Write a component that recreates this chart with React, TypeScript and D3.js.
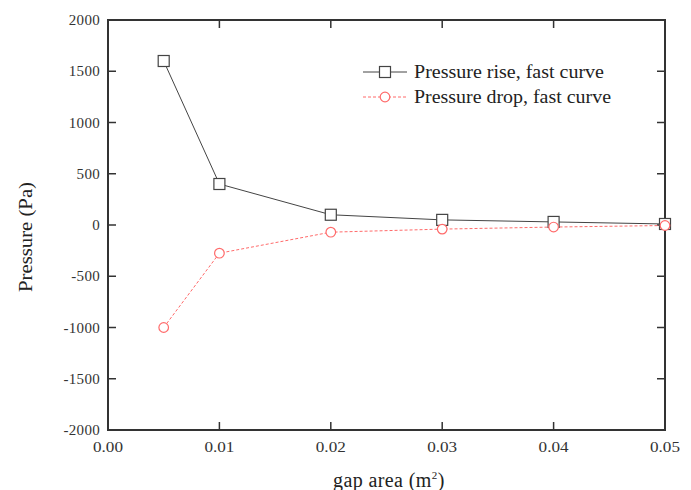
import React from "react";
import * as d3 from "d3";

const xValues = [0.005, 0.01, 0.02, 0.03, 0.04, 0.05];
const riseValues = [1600, 400, 100, 50, 30, 10];
const dropValues = [-1000, -275, -70, -40, -20, -5];
const xTicks = [0, 0.01, 0.02, 0.03, 0.04, 0.05];
const yTicks = [-2000, -1500, -1000, -500, 0, 500, 1000, 1500, 2000];
const seriesNames = ["Pressure rise, fast curve", "Pressure drop, fast curve"];

const W = 691, H = 490;
const M = { left: 108, right: 665, top: 20, bottom: 430 };
const FONT = "'Liberation Serif', 'Times New Roman', serif";

export default function App() {
  const x = d3.scaleLinear().domain([0, 0.05]).range([M.left, M.right]);
  const y = d3.scaleLinear().domain([-2000, 2000]).range([M.bottom, M.top]);
  const line = d3.line<number>().x((_, i) => x(xValues[i])).y((d) => y(d));
  const tickLen = 8;
  const axisColor = "#333";
  const riseColor = "#444";
  const dropColor = "#ff6b6b";
  const sq = 11;
  return (
    <svg width={W} height={H} style={{ position: "absolute", left: 0, top: 0 }}>
      <rect x={0} y={0} width={W} height={H} fill="#fff" />
      {/* ticks */}
      {xTicks.map((t) => (
        <g key={"x" + t}>
          <line x1={x(t)} x2={x(t)} y1={M.bottom} y2={M.bottom - tickLen} stroke={axisColor} strokeWidth={1.5} />
          <line x1={x(t)} x2={x(t)} y1={M.top} y2={M.top + tickLen} stroke={axisColor} strokeWidth={1.5} />
          <text x={x(t)} y={M.bottom + 22} textAnchor="middle" fontFamily={FONT} fontSize={15} fill="#333" textLength={30} lengthAdjust="spacingAndGlyphs">
            {t.toFixed(2)}
          </text>
        </g>
      ))}
      {yTicks.map((t) => (
        <g key={"y" + t}>
          <line x1={M.left} x2={M.left + tickLen} y1={y(t)} y2={y(t)} stroke={axisColor} strokeWidth={1.5} />
          <line x1={M.right} x2={M.right - tickLen} y1={y(t)} y2={y(t)} stroke={axisColor} strokeWidth={1.5} />
          <text x={M.left - 8} y={y(t) + 5} textAnchor="end" fontFamily={FONT} fontSize={15} fill="#333" letterSpacing={0.3}>
            {t}
          </text>
        </g>
      ))}
      <rect x={M.left} y={M.top} width={M.right - M.left} height={M.bottom - M.top} fill="none" stroke={axisColor} strokeWidth={2} />
      {/* series */}
      <path d={line(riseValues) || ""} fill="none" stroke={riseColor} strokeWidth={1} />
      <path d={line(dropValues) || ""} fill="none" stroke={dropColor} strokeWidth={1} strokeDasharray="3,2" />
      {riseValues.map((v, i) => (
        <rect key={"r" + i} x={x(xValues[i]) - sq / 2} y={y(v) - sq / 2} width={sq} height={sq} fill="#fff" stroke={riseColor} strokeWidth={1.2} />
      ))}
      {dropValues.map((v, i) => (
        <circle key={"d" + i} cx={x(xValues[i])} cy={y(v)} r={4.8} fill="#fff" stroke={dropColor} strokeWidth={1.2} />
      ))}
      {/* legend */}
      <g>
        <line x1={363} x2={407} y1={72} y2={72} stroke={riseColor} strokeWidth={1} />
        <rect x={385 - sq / 2} y={72 - sq / 2} width={sq} height={sq} fill="#fff" stroke={riseColor} strokeWidth={1.2} />
        <text x={414} y={78} fontFamily={FONT} fontSize={18} fill="#222" textLength={190} lengthAdjust="spacingAndGlyphs">{seriesNames[0]}</text>
        <line x1={363} x2={407} y1={97} y2={97} stroke={dropColor} strokeWidth={1} strokeDasharray="3,2" />
        <circle cx={385} cy={97} r={4.8} fill="#fff" stroke={dropColor} strokeWidth={1.2} />
        <text x={414} y={103} fontFamily={FONT} fontSize={18} fill="#222" textLength={197} lengthAdjust="spacingAndGlyphs">{seriesNames[1]}</text>
      </g>
      {/* axis labels */}
      <text x={333} y={487} fontFamily={FONT} fontSize={20} fill="#222" letterSpacing={0.4}>
        gap area (m<tspan dy={-8} fontSize={11}>2</tspan><tspan dy={8}>)</tspan>
      </text>
      <text transform={`translate(32, 237) rotate(-90)`} textAnchor="middle" fontFamily={FONT} fontSize={19} fill="#222" textLength={110} lengthAdjust="spacingAndGlyphs">
        Pressure (Pa)
      </text>
    </svg>
  );
}
